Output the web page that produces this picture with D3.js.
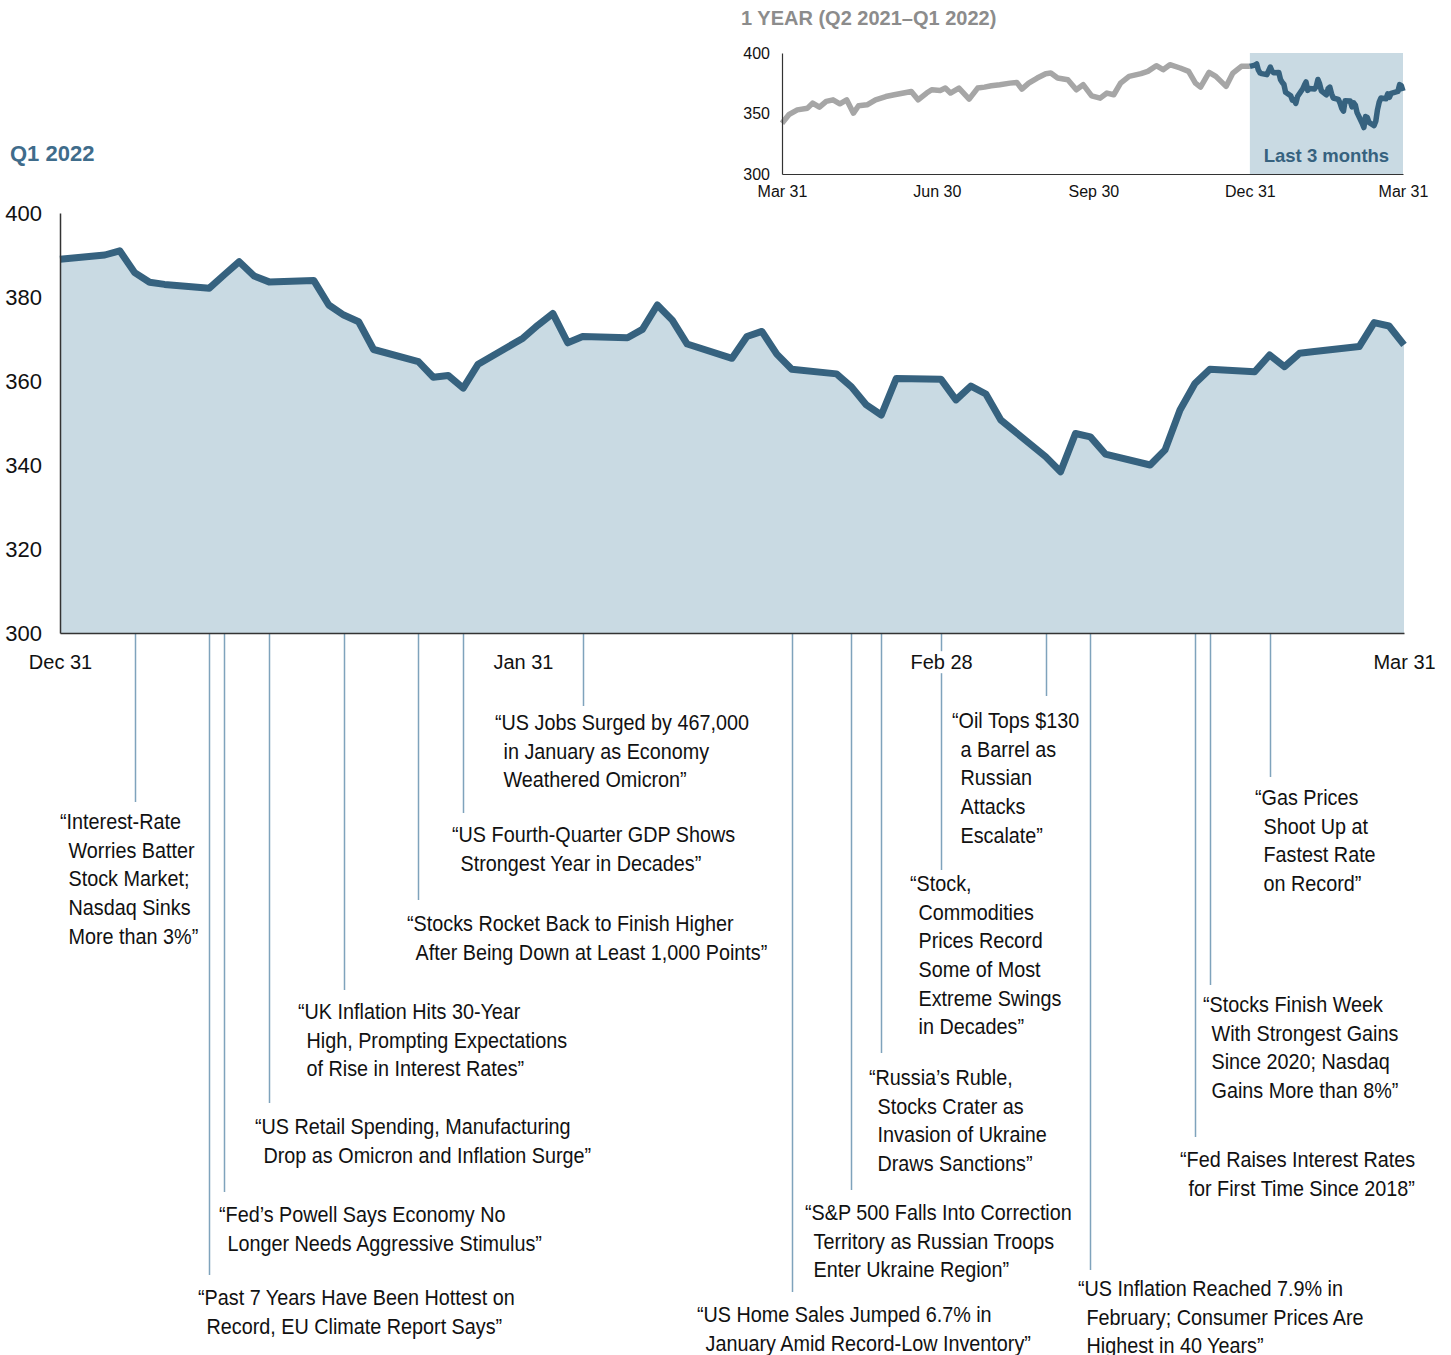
<!DOCTYPE html>
<meta charset="utf-8">
<script src="https://d3js.org/d3.v7.min.js"></script>
<style>
    body { margin: 0; background: #fff; }
    svg text { font-family: "Liberation Sans", Arial, sans-serif; }
    .ann text { font-family: "Liberation Sans Narrow", "Arial Narrow", "Liberation Sans", Arial, sans-serif; font-size: 22px; fill: #111; }
</style>

<body>
    <div id="my_dataviz"></div>
</body>
<script>

    // Q1 2022 daily closes
    var q1Dates = ["2021-12-31", "2022-01-03", "2022-01-04", "2022-01-05", "2022-01-06", "2022-01-07",
        "2022-01-10", "2022-01-11", "2022-01-12", "2022-01-13", "2022-01-14", "2022-01-17", "2022-01-18",
        "2022-01-19", "2022-01-20", "2022-01-21", "2022-01-24", "2022-01-25", "2022-01-26", "2022-01-27",
        "2022-01-28", "2022-01-31", "2022-02-01", "2022-02-02", "2022-02-03", "2022-02-04", "2022-02-07",
        "2022-02-08", "2022-02-09", "2022-02-10", "2022-02-11", "2022-02-14", "2022-02-15", "2022-02-16",
        "2022-02-17", "2022-02-18", "2022-02-21", "2022-02-22", "2022-02-23", "2022-02-24", "2022-02-25",
        "2022-02-28", "2022-03-01", "2022-03-02", "2022-03-03", "2022-03-04", "2022-03-07", "2022-03-08",
        "2022-03-09", "2022-03-10", "2022-03-11", "2022-03-14", "2022-03-15", "2022-03-16", "2022-03-17",
        "2022-03-18", "2022-03-21", "2022-03-22", "2022-03-23", "2022-03-24", "2022-03-25", "2022-03-28",
        "2022-03-29", "2022-03-30", "2022-03-31"];
    var q1Values = [389.0, 390.0, 391.0, 385.8, 383.5, 383.0,
        382.1, 385.3, 388.4, 385.0, 383.6, 383.9, 378.1,
        375.7, 374.1, 367.5, 364.6, 360.9, 361.3, 358.3,
        364.0, 370.2, 373.3, 376.1, 369.1, 370.6, 370.3,
        372.3, 378.1, 374.5, 368.8, 365.4, 370.6, 371.8,
        366.4, 362.8, 361.7, 358.6, 354.3, 351.9, 360.6,
        360.4, 355.5, 358.8, 356.9, 350.7, 342.0, 338.4,
        347.5, 346.7, 342.6, 340.0, 343.6, 353.1, 359.4,
        362.8, 362.2, 366.2, 363.4, 366.6, 367.0, 368.2,
        373.9, 373.1, 368.6];

    // Q2-Q4 2021 (inset, grey part)
    var yearDates = ["2021-03-31", "2021-04-04", "2021-04-09", "2021-04-15", "2021-04-18", "2021-04-22",
        "2021-04-26", "2021-04-30", "2021-05-04", "2021-05-08", "2021-05-12", "2021-05-15", "2021-05-20",
        "2021-05-25", "2021-05-31", "2021-06-05", "2021-06-12", "2021-06-15", "2021-06-19", "2021-06-24",
        "2021-06-27", "2021-07-02", "2021-07-05", "2021-07-08", "2021-07-13", "2021-07-19", "2021-07-24",
        "2021-07-28", "2021-08-01", "2021-08-06", "2021-08-12", "2021-08-16", "2021-08-19", "2021-08-23",
        "2021-08-28", "2021-09-02", "2021-09-05", "2021-09-09", "2021-09-15", "2021-09-20", "2021-09-24",
        "2021-09-29", "2021-10-04", "2021-10-08", "2021-10-12", "2021-10-16", "2021-10-21", "2021-10-28",
        "2021-11-01", "2021-11-06", "2021-11-10", "2021-11-14", "2021-11-20", "2021-11-25", "2021-11-29",
        "2021-12-02", "2021-12-07", "2021-12-11", "2021-12-17", "2021-12-21", "2021-12-26", "2021-12-31"];
    var yearValues = [342, 349, 353, 354.4, 358.6, 355.2,
        360, 361.3, 358, 361.3, 350.3, 356.4, 357.2,
        361.3, 364, 365.5, 367.4, 368.2, 361.3, 366.9,
        369.6, 369, 371, 366.9, 371, 361.9, 371,
        371.8, 372.9, 373.8, 375.1, 375.7, 370.2, 375.1,
        379.3, 382.9, 383.4, 379.3, 377.9, 369.6, 373.8,
        364.6, 362.7, 366.9, 365.5, 375.1, 380.7, 382.9,
        384.8, 389.5, 386.2, 390.3, 387.6, 384.8, 375.1,
        371.8, 384, 380.7, 372.4, 383.4, 389, 389.0];

    var yTicks = [300, 320, 340, 360, 380, 400];
    var xTickDates = ["2021-12-31", "2022-01-31", "2022-02-28", "2022-03-31"];
    var xTickLabels = ["Dec 31", "Jan 31", "Feb 28", "Mar 31"];
    var insetYTicks = [300, 350, 400];
    var insetXTickDates = ["2021-03-31", "2021-06-30", "2021-09-30", "2021-12-31", "2022-03-31"];
    var insetXTickLabels = ["Mar 31", "Jun 30", "Sep 30", "Dec 31", "Mar 31"];

    // headlines
    var annDates = ["2022-01-05", "2022-01-10", "2022-01-11", "2022-01-14", "2022-01-19", "2022-01-24",
        "2022-01-27", "2022-02-04", "2022-02-18", "2022-02-22", "2022-02-24", "2022-02-28", "2022-03-07",
        "2022-03-10", "2022-03-17", "2022-03-18", "2022-03-22"];
    var annHeadlines = [
        ["“Interest-Rate", "Worries Batter", "Stock Market;", "Nasdaq Sinks", "More than 3%”"],
        ["“Past 7 Years Have Been Hottest on", "Record, EU Climate Report Says”"],
        ["“Fed’s Powell Says Economy No", "Longer Needs Aggressive Stimulus”"],
        ["“US Retail Spending, Manufacturing", "Drop as Omicron and Inflation Surge”"],
        ["“UK Inflation Hits 30-Year", "High, Prompting Expectations", "of Rise in Interest Rates”"],
        ["“Stocks Rocket Back to Finish Higher", "After Being Down at Least 1,000 Points”"],
        ["“US Fourth-Quarter GDP Shows", "Strongest Year in Decades”"],
        ["“US Jobs Surged by 467,000", "in January as Economy", "Weathered Omicron”"],
        ["“US Home Sales Jumped 6.7% in", "January Amid Record-Low Inventory”"],
        ["“S&P 500 Falls Into Correction", "Territory as Russian Troops", "Enter Ukraine Region”"],
        ["“Russia’s Ruble,", "Stocks Crater as", "Invasion of Ukraine", "Draws Sanctions”"],
        ["“Stock,", "Commodities", "Prices Record", "Some of Most", "Extreme Swings", "in Decades”"],
        ["“Oil Tops $130", "a Barrel as", "Russian", "Attacks", "Escalate”"],
        ["“US Inflation Reached 7.9% in", "February; Consumer Prices Are", "Highest in 40 Years”"],
        ["“Fed Raises Interest Rates", "for First Time Since 2018”"],
        ["“Stocks Finish Week", "With Strongest Gains", "Since 2020; Nasdaq", "Gains More than 8%”"],
        ["“Gas Prices", "Shoot Up at", "Fastest Rate", "on Record”"]
    ];

    // where each headline sits (leader end, text x, first baseline)
    var annLayout = [
        [802, 60, 829], [1275, 198, 1305], [1192, 219, 1222], [1103, 255, 1134], [990, 298, 1019],
        [900, 407, 931], [813, 452, 842], [706, 495, 730], [1292, 697, 1322], [1190, 805, 1220],
        [1053, 869, 1085], [870, 910, 891], [696, 952, 728], [1270, 1078, 1296], [1137, 1180, 1167],
        [985, 1203, 1012], [777, 1255, 805]
    ];

    var DARK = "#36627f", FILL = "#c9dae3", LEADER = "#7fa3bc";
    var NARROW = 0.9; // no narrow face installed, squeeze the regular one
    var parse = d3.utcParse("%Y-%m-%d");

    var width = 1451, height = 1355;
    var svg = d3.select("#my_dataviz").append("svg")
        .attr("width", width)
        .attr("height", height);

    // ---------- main chart ----------
    var q1 = q1Dates.map(function (d, i) { return { date: parse(d), value: q1Values[i] }; });

    var x = d3.scaleUtc()
        .domain([parse("2021-12-31"), parse("2022-03-31")])
        .range([60, 1404]);
    var y = d3.scaleLinear().domain([300, 400]).range([633, 213]);

    svg.append("text")
        .attr("x", 10).attr("y", 161)
        .style("font-size", "22px").style("font-weight", "bold")
        .style("fill", "#3f6c8b")
        .text("Q1 2022");

    svg.append("path")
        .datum(q1)
        .attr("fill", FILL)
        .attr("d", d3.area()
            .x(function (d) { return x(d.date); })
            .y0(y(300))
            .y1(function (d) { return y(d.value); }));

    svg.append("path")
        .datum(q1)
        .attr("fill", "none")
        .attr("stroke", DARK)
        .attr("stroke-width", 7)
        .attr("stroke-linejoin", "round")
        .attr("d", d3.line()
            .x(function (d) { return x(d.date); })
            .y(function (d) { return y(d.value); }));

    // headline leaders + text
    var ann = svg.append("g").attr("class", "ann");
    annDates.forEach(function (d, i) {
        var lx = Math.round(x(parse(d))) + 0.5;
        var lay = annLayout[i];
        ann.append("line")
            .attr("x1", lx).attr("x2", lx)
            .attr("y1", y(300)).attr("y2", lay[0])
            .attr("stroke", LEADER).attr("stroke-width", 1.5);
        var t = ann.append("text")
            .attr("transform", "translate(" + lay[1] + "," + lay[2] + ") scale(" + NARROW + ",1)");
        annHeadlines[i].forEach(function (line, j) {
            t.append("tspan")
                .attr("x", j == 0 ? 0 : 8.5 / NARROW)
                .attr("y", j * 28.7)
                .text(line);
        });
    });

    var yAxis = svg.append("g")
        .attr("transform", "translate(60,0)")
        .call(d3.axisLeft(y).tickValues(yTicks).tickSize(0).tickPadding(18));
    yAxis.selectAll("text").style("font-size", "22px").style("fill", "#111");
    yAxis.select(".domain").attr("stroke", "#333").attr("stroke-width", 1.5);

    var xAxis = svg.append("g")
        .attr("transform", "translate(0,633)")
        .call(d3.axisBottom(x)
            .tickValues(xTickDates.map(parse))
            .tickFormat(function (d, i) { return xTickLabels[i]; })
            .tickSize(0).tickPadding(22));
    xAxis.select(".domain").attr("stroke", "#333").attr("stroke-width", 1.5);
    xAxis.selectAll("text").style("font-size", "20px").style("fill", "#111");
    xAxis.selectAll(".tick").each(function () {
        var bb = this.querySelector("text").getBBox();
        d3.select(this).insert("rect", "text")
            .attr("x", bb.x - 3).attr("y", bb.y)
            .attr("width", bb.width + 6).attr("height", bb.height)
            .attr("fill", "#fff");
    });

    // ---------- inset: one year ----------
    var xi = d3.scaleUtc()
        .domain([parse("2021-03-31"), parse("2022-03-31")])
        .range([782, 1403]);
    var yi = d3.scaleLinear().domain([300, 400]).range([174, 53]);

    svg.append("text")
        .attr("x", 741).attr("y", 25)
        .style("font-size", "20px").style("font-weight", "bold")
        .style("fill", "#8c8c8c")
        .text("1 YEAR (Q2 2021–Q1 2022)");

    svg.append("rect")
        .attr("x", xi(parse("2021-12-31")))
        .attr("y", yi(400))
        .attr("width", xi(parse("2022-03-31")) - xi(parse("2021-12-31")))
        .attr("height", yi(300) - yi(400))
        .attr("fill", FILL);

    svg.append("text")
        .attr("x", (xi(parse("2021-12-31")) + xi(parse("2022-03-31"))) / 2)
        .attr("y", 162)
        .attr("text-anchor", "middle")
        .style("font-size", "18.5px").style("font-weight", "bold")
        .style("fill", DARK)
        .text("Last 3 months");

    var year = yearDates.map(function (d, i) { return { date: parse(d), value: yearValues[i] }; });
    var insetLine = d3.line()
        .x(function (d) { return xi(d.date); })
        .y(function (d) { return yi(d.value); });

    svg.append("path").datum(year)
        .attr("fill", "none").attr("stroke", "#a6a6a6")
        .attr("stroke-width", 5.5).attr("stroke-linejoin", "round")
        .attr("d", insetLine);
    svg.append("path").datum(q1)
        .attr("fill", "none").attr("stroke", DARK)
        .attr("stroke-width", 5.5).attr("stroke-linejoin", "round")
        .attr("d", insetLine);

    var yiAxis = svg.append("g")
        .attr("transform", "translate(782,0)")
        .call(d3.axisLeft(yi).tickValues(insetYTicks).tickSize(0).tickPadding(12));
    yiAxis.selectAll("text").style("font-size", "16px").style("fill", "#111");
    yiAxis.select(".domain").attr("stroke", "#333").attr("stroke-width", 1.2);

    var xiAxis = svg.append("g")
        .attr("transform", "translate(0,174)")
        .call(d3.axisBottom(xi)
            .tickValues(insetXTickDates.map(parse))
            .tickFormat(function (d, i) { return insetXTickLabels[i]; })
            .tickSize(0).tickPadding(12));
    xiAxis.selectAll("text").style("font-size", "16px").style("fill", "#111");
    xiAxis.select(".domain").attr("stroke", "#333").attr("stroke-width", 1.2);

</script>
